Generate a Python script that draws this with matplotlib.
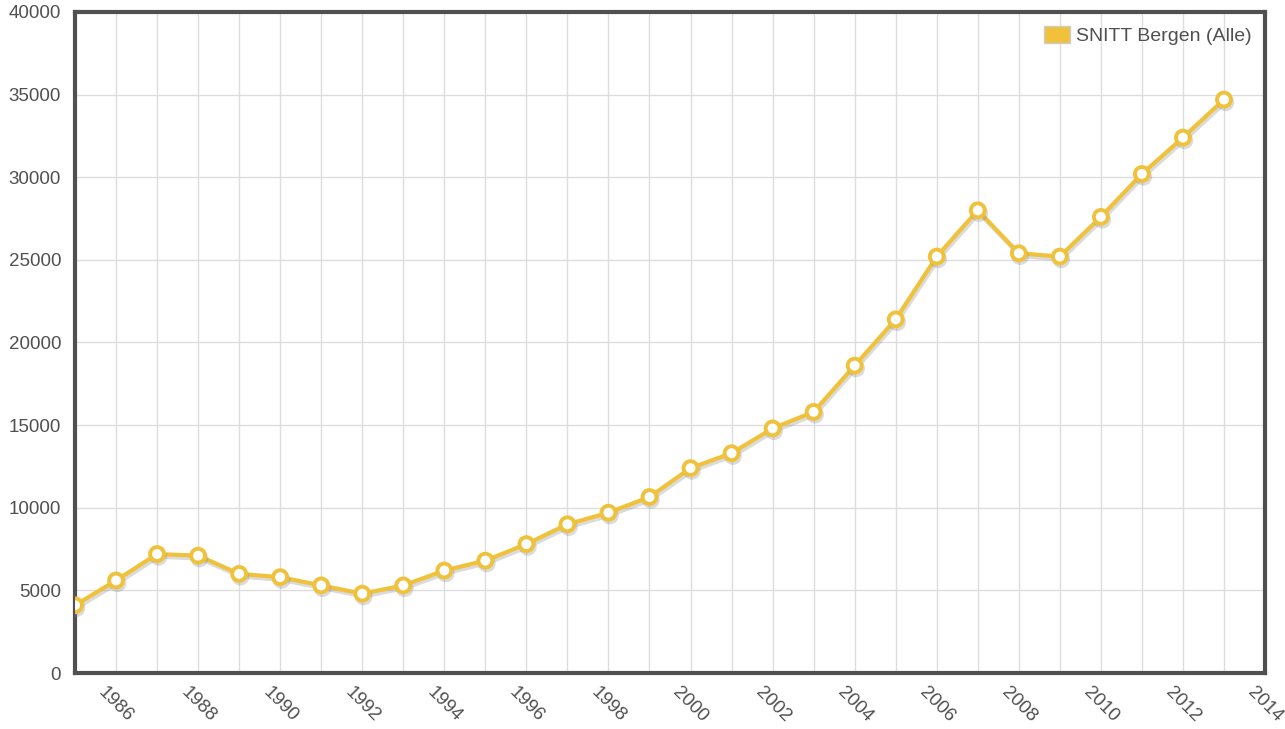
import numpy as np
import matplotlib.pyplot as plt
import matplotlib.patheffects as pe
from matplotlib.patches import Patch

plt.rcParams['font.family'] = ['Liberation Sans', 'DejaVu Sans']

years = list(range(1985, 2014))
values = [4100, 5600, 7200, 7100, 6000, 5800, 5300, 4800, 5300, 6200,
          6800, 7800, 9000, 9700, 10650, 12400, 13300, 14800, 15800, 18600,
          21400, 25200, 28000, 25400, 25200, 27600, 30200, 32400, 34700]
series_name = 'SNITT Bergen (Alle)'

gold = '#f0c23b'
txt = '#505050'

fig = plt.figure(figsize=(12.85, 7.29), dpi=100)
ax = fig.add_axes([75/1285, 56/729, 1190/1285, 661/729])

ax.plot(years, values, color=gold, lw=3, marker='o', ms=10,
        mfc='white', mec=gold, mew=2.8, zorder=3,
        path_effects=[pe.SimpleLineShadow(offset=(1, -2), shadow_color='#888888', alpha=0.3),
                      pe.Normal()])

ax.set_xlim(1985, 2014)
ax.set_ylim(0, 40000)
ax.set_xticks(range(1986, 2015, 2))
ax.set_xticks(range(1985, 2015), minor=True)
ax.set_yticks(range(0, 40001, 5000))
ax.grid(True, which='both', color='#dddddd', lw=1)
ax.set_axisbelow(True)

ax.tick_params(axis='both', which='both', length=0, colors=txt, labelsize=13.5)
ax.tick_params(axis='y', pad=10)
ax.tick_params(axis='x', pad=8)
for lab in ax.get_xticklabels():
    lab.set_rotation(-45)
    lab.set_ha('center')
    lab.set_va('top')

for s in ax.spines.values():
    s.set_color('#505050')
    s.set_linewidth(3)

handle = Patch(facecolor=gold, edgecolor='#cccccc', lw=1)
ax.legend([handle], [series_name], loc='upper right', frameon=False,
          fontsize=14, labelcolor=txt, handlelength=1.35, handleheight=1.0,
          handletextpad=0.3, borderaxespad=0.3)

fig.savefig('out.png', dpi=100)
